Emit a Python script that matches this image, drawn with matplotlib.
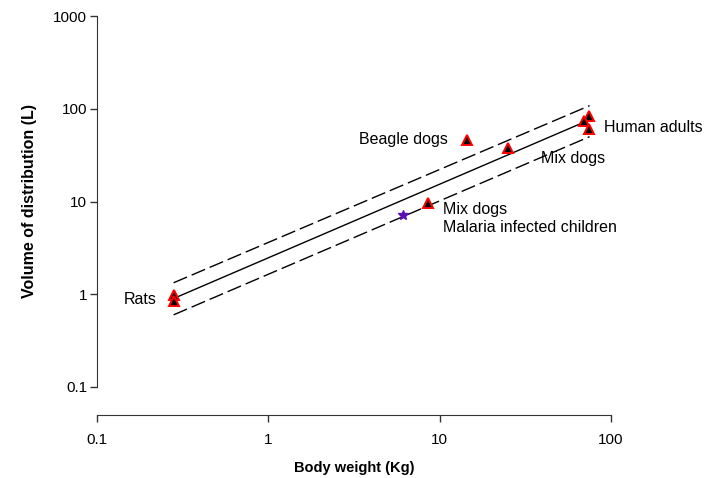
import matplotlib
matplotlib.use("Agg")
import matplotlib.pyplot as plt

plt.rcParams['font.family'] = ['Liberation Sans', 'DejaVu Sans']

# Data
rat_w = [0.28, 0.28]
rat_v = [0.97, 0.84]
dog_w = [14.4, 25.0, 8.55]
dog_v = [46.0, 37.8, 9.6]
human_w = [74.5, 69.5, 74.5]
human_v = [83.5, 73.8, 60.6]
child_w = [6.1]
child_v = [7.1]

line_w = [0.28, 75.0]
fit_v = [0.90, 76.0]
upper_v = [1.33, 108.0]
lower_v = [0.60, 50.0]

x_ticks = [0.1, 1, 10, 100]
x_tick_labels = ["0.1", "1", "10", "100"]
y_ticks = [0.1, 1, 10, 100, 1000]
y_tick_labels = ["0.1", "1", "10", "100", "1000"]

labels = [
    ("Rats", 0.224, 0.87, "right"),
    ("Beagle dogs", 11.2, 47.0, "right"),
    ("Mix dogs", 39.0, 29.4, "left"),
    ("Human adults", 91.0, 63.5, "left"),
    ("Mix dogs", 10.4, 8.1, "left"),
    ("Malaria infected children", 10.4, 5.2, "left"),
]

fig = plt.figure(figsize=(7.07, 4.78), dpi=100)
ax = fig.add_axes([97/707, 1-387/478, (611-97)/707, (387-16)/478])
ax.set_xscale('log')
ax.set_yscale('log')
ax.set_xlim(0.1, 100)
ax.set_ylim(0.1, 1000)

ax.plot(line_w, fit_v, color='black', lw=1.0, zorder=2)
ax.plot(line_w, upper_v, color='black', lw=1.0, dashes=(10.5, 3.6), zorder=2)
ax.plot(line_w, lower_v, color='black', lw=1.0, dashes=(10.5, 3.6), zorder=2)

tri = dict(marker='^', ms=7.5, mfc='black', mec='red', mew=1.4, ls='none', zorder=3)
ax.plot(rat_w, rat_v, **tri)
ax.plot(dog_w, dog_v, **tri)
ax.plot(human_w, human_v, **tri)
ax.plot(child_w, child_v, marker='*', ms=7.5, color='#5A0FB4', ls='none', zorder=3)

for txt, x, y, ha in labels:
    ax.text(x, y, txt, ha=ha, va='center', fontsize=11.5)

ax.spines['top'].set_visible(False)
ax.spines['right'].set_visible(False)
ax.spines['bottom'].set_position(('outward', 20))
ax.minorticks_off()
ax.set_xticks(x_ticks)
ax.set_xticklabels(x_tick_labels)
ax.set_yticks(y_ticks)
ax.set_yticklabels(y_tick_labels)
ax.tick_params(axis='both', direction='out', length=5, width=1, labelsize=11, colors='#333333', labelcolor='black')
ax.tick_params(axis='x', pad=8)
ax.tick_params(axis='y', pad=2)
for s in ['left', 'bottom']:
    ax.spines[s].set_color('#333333')

ax.set_xlabel("Body weight (Kg)", fontsize=10.5, fontweight='bold', labelpad=10)
ax.set_ylabel("Volume of distribution (L)", fontsize=11.5, fontweight='bold', labelpad=12)

fig.savefig("out.png", dpi=100)
